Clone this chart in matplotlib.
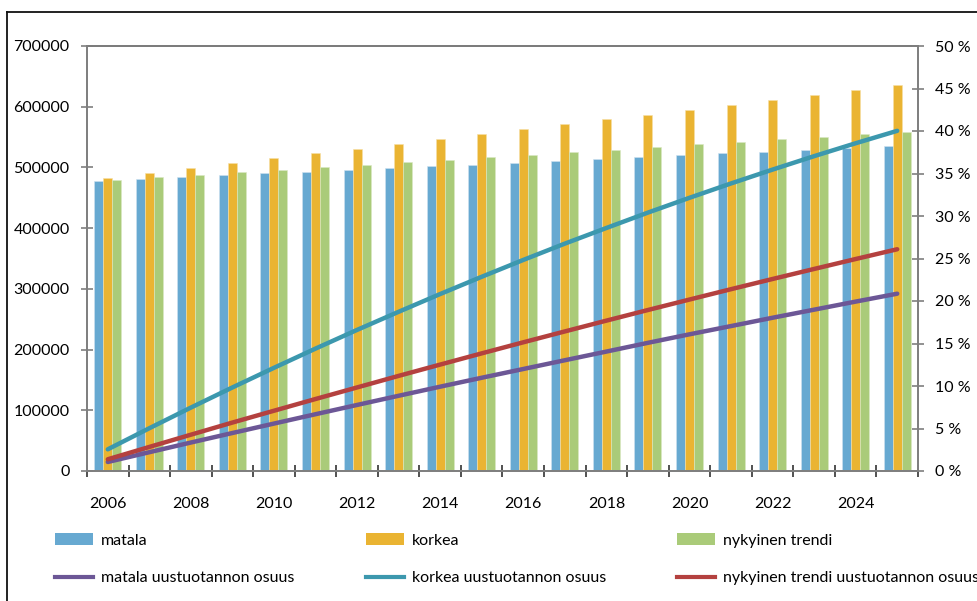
import matplotlib
matplotlib.use("Agg")
import matplotlib.pyplot as plt
from matplotlib.lines import Line2D
from matplotlib.patches import Patch
from matplotlib.ticker import FixedLocator, FuncFormatter
import numpy as np

plt.rcParams['font.family'] = ['Lato', 'DejaVu Sans']

years = list(range(2006, 2026))
matala = [478100, 480900, 484200, 486800, 490100, 492900, 495700, 499000, 501700, 504400,
          507700, 511000, 514300, 517100, 520400, 523100, 525900, 529200, 532500, 535300]
korkea = [482500, 490700, 498400, 506600, 514800, 523100, 530800, 539000, 547300, 555000,
          563200, 570900, 579700, 586800, 595100, 602800, 611000, 619300, 627500, 635100]
trendi = [479200, 483500, 488000, 491800, 496200, 500000, 504400, 508200, 512700, 517100,
          520900, 525300, 529200, 534100, 537900, 542300, 546700, 550600, 555000, 558800]
# shares of new production (%)
matala_osuus = [1.06, 2.21, 3.35, 4.47, 5.58, 6.68, 7.77, 8.85, 9.92, 10.97,
                12.00, 13.03, 14.05, 15.08, 16.08, 17.05, 18.03, 18.98, 19.93, 20.86]
korkea_osuus = [2.55, 5.03, 7.46, 9.83, 12.14, 14.40, 16.60, 18.73, 20.82, 22.85,
                24.83, 26.75, 28.59, 30.40, 32.14, 33.83, 35.46, 37.04, 38.56, 40.02]
trendi_osuus = [1.38, 2.83, 4.27, 5.70, 7.09, 8.47, 9.83, 11.19, 12.52, 13.84,
                15.14, 16.42, 17.69, 18.94, 20.17, 21.39, 22.59, 23.77, 24.94, 26.09]

bar_labels = ['matala', 'korkea', 'nykyinen trendi']
line_labels = ['matala uustuotannon osuus', 'korkea uustuotannon osuus',
               'nykyinen trendi uustuotannon osuus']

c_mat = '#67A9D1'
c_kor = '#EAB432'
c_tre = '#AACB79'
c_lmat = '#6C5796'
c_lkor = '#3C98AE'
c_ltre = '#B4413F'

fig = plt.figure(figsize=(9.78, 6.01), dpi=100)
ax = fig.add_axes([87/978, 1-471/601, (918-87)/978, (471-46)/601])
ax2 = ax.twinx()

x = np.arange(len(years))
w = 0.2166
ax.bar(x - w, matala, w, color=c_mat, edgecolor='#cfe3f0', linewidth=0.4)
ax.bar(x, korkea, w, color=c_kor, edgecolor='#f6dfa6', linewidth=0.4)
ax.bar(x + w, trendi, w, color=c_tre, edgecolor='#dbe9c4', linewidth=0.4)

ax.set_xlim(-0.5, len(years) - 0.5)
ax.set_ylim(0, 700000)
ax2.set_ylim(0, 50)

for vals, col in [(matala_osuus, c_lmat), (korkea_osuus, c_lkor), (trendi_osuus, c_ltre)]:
    ax2.plot(x, vals, color=col, lw=3.2, solid_capstyle='round', zorder=5)

spine_col = '#7f7f7f'
for a in (ax, ax2):
    for s in a.spines.values():
        s.set_color(spine_col)
        s.set_linewidth(1.3)
ax.spines['top'].set_color('#555555')

ax.set_yticks(np.arange(0, 700001, 100000))
ax.yaxis.set_major_formatter(FuncFormatter(lambda v, p: f"{int(v)}"))
ax.tick_params(axis='y', direction='inout', length=9, width=1.2, color=spine_col,
               labelsize=11.5, pad=8)
ax2.set_yticks(np.arange(0, 51, 5))
ax2.yaxis.set_major_formatter(FuncFormatter(lambda v, p: f"{int(v)} %"))
ax2.tick_params(axis='y', direction='inout', length=9, width=1.2, color=spine_col,
                labelsize=11.5, pad=8)

ax.set_xticks(x[::2])
ax.set_xticklabels([str(y) for y in years[::2]])
ax.tick_params(axis='x', which='major', length=0, labelsize=11.5, pad=19)
ax.xaxis.set_minor_locator(FixedLocator(np.arange(-0.5, len(years), 1.0)))
ax.tick_params(axis='x', which='minor', direction='inout', length=9, width=1.2, color='#333333')

# outer frame lines
fig.add_artist(Line2D([7/978, 1.0], [1-12/601, 1-12/601], color='#111111', lw=1.3))
fig.add_artist(Line2D([7/978, 7/978], [0, 1-12/601], color='#111111', lw=1.3))

cols = [(c_mat, c_lmat), (c_kor, c_lkor), (c_tre, c_ltre)]
xs = [55/978, 366/978, 677/978]
for i in range(3):
    handles = [Patch(facecolor=cols[i][0], edgecolor='none'),
               Line2D([], [], color=cols[i][1], lw=3)]
    fig.legend(handles, [bar_labels[i], line_labels[i]], loc='upper left',
               bbox_to_anchor=(xs[i], 1-533/601), frameon=False, fontsize=11.5,
               handlelength=2.35, handleheight=0.8, handletextpad=0.55, labelspacing=1.45,
               borderpad=0, borderaxespad=0)

fig.savefig('out.png', dpi=100)
